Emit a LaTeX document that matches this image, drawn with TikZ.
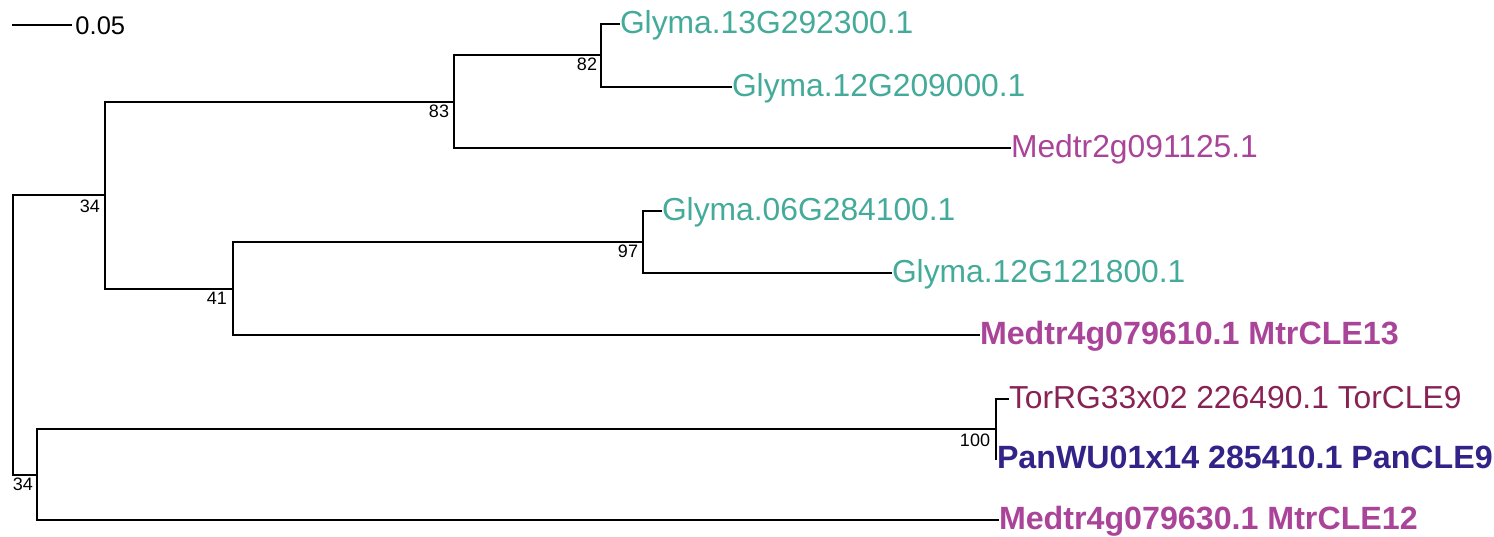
\documentclass[tikz,border=0pt]{standalone}
\usepackage{fontspec}
\setmainfont{Liberation Sans}
\definecolor{tolteal}{HTML}{44AA99}
\definecolor{tolpurple}{HTML}{AA4499}
\definecolor{tolwine}{HTML}{882255}
\definecolor{tolindigo}{HTML}{332288}
\begin{document}
\begin{tikzpicture}[x=0.5pt,y=-0.5pt,
  br/.style={line width=1.05pt},
  leaf/.style={anchor=west, inner sep=0pt, outer sep=0pt,
    font=\fontsize{15.9}{18}\selectfont, text height=11.6pt, text depth=2.5pt},
  boldleaf/.style={leaf, font=\fontsize{16.1}{18}\selectfont\bfseries},
  boot/.style={inner sep=0pt, outer sep=0pt, anchor=center,
    font=\fontsize{9}{10}\selectfont, text height=6.45pt, text depth=0pt},
  scalelab/.style={anchor=west, inner sep=0pt, outer sep=0pt,
    font=\fontsize{12.75}{14}\selectfont, text height=9.13pt, text depth=0pt}]
\useasboundingbox (0,0) rectangle (1494,536);

% scale bar
\coordinate (s0) at (12,25);
\coordinate (s1) at (72,25);
\node[scalelab] (sl) at (75.5,25) {0.05};
\draw[br] (s0) -- (s1);

% internal nodes
\coordinate (root) at (13,335);
\coordinate (A) at (105,195);
\coordinate (n83) at (454,102);
\coordinate (n82) at (601,55);
\coordinate (n41) at (233,289);
\coordinate (n97) at (643,242);
\coordinate (B) at (37,475);
\coordinate (n100) at (996,429);

% leaves
\node[leaf, text=tolteal] (g13) at (620,24) {Glyma.13G292300.1};
\node[leaf, text=tolteal] (g12a) at (732,87) {Glyma.12G209000.1};
\node[leaf, text=tolpurple] (m2) at (1011,148) {Medtr2g091125.1};
\node[leaf, text=tolteal] (g06) at (662,211) {Glyma.06G284100.1};
\node[leaf, text=tolteal] (g12b) at (892,273) {Glyma.12G121800.1};
\node[boldleaf, text=tolpurple] (m13) at (980,335) {Medtr4g079610.1 MtrCLE13};
\node[leaf, text=tolwine] (tor) at (1009,399) {TorRG33x02 226490.1 TorCLE9};
\node[boldleaf, text=tolindigo] (pan) at (997,459) {PanWU01x14 285410.1 PanCLE9};
\node[boldleaf, text=tolpurple] (m12) at (999,520) {Medtr4g079630.1 MtrCLE12};

% branches
\draw[br] (root) |- (A);
\draw[br] (root) |- (B);
\draw[br] (A) |- (n83);
\draw[br] (A) |- (n41);
\draw[br] (n83) |- (n82);
\draw[br] (n83) |- (m2.west);
\draw[br] (n82) |- (g13.west);
\draw[br] (n82) |- (g12a.west);
\draw[br] (n41) |- (n97);
\draw[br] (n41) |- (m13.west);
\draw[br] (n97) |- (g06.west);
\draw[br] (n97) |- (g12b.west);
\draw[br] (B) |- (n100);
\draw[br] (B) |- (m12.west);
\draw[br] (n100) |- (tor.west);
\draw[br] (n100) |- (pan.west);

% bootstrap values
\node[boot] (bA) at (90,206) {34};
\node[boot] (b83) at (439,111.5) {83};
\node[boot] (b82) at (587,64) {82};
\node[boot] (b41) at (217,298) {41};
\node[boot] (b97) at (628,251.5) {97};
\node[boot] (bB) at (23,484.5) {34};
\node[boot] (b100) at (975,440) {100};
\end{tikzpicture}
\end{document}
